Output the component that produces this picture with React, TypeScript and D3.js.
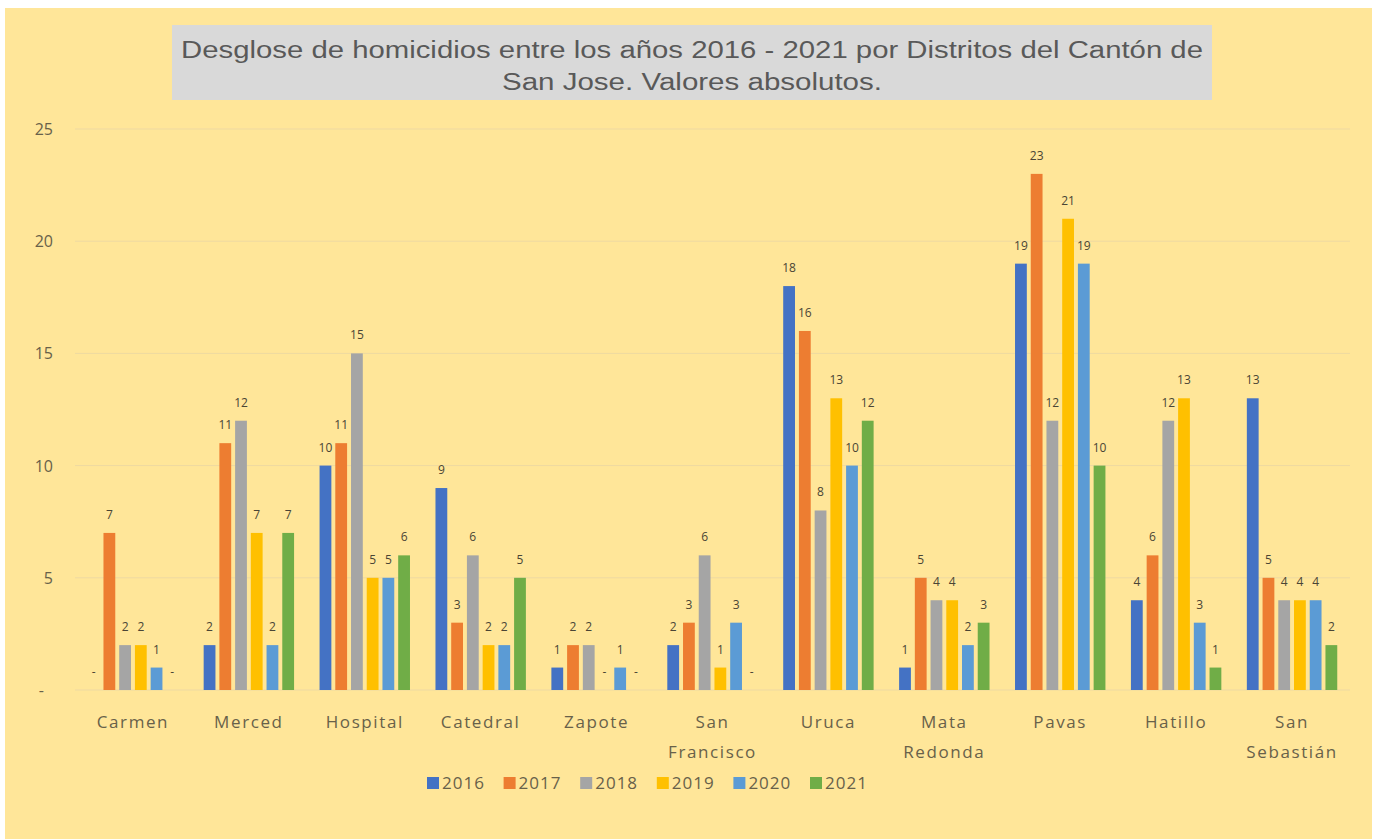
import React from 'react';
import * as d3 from 'd3';

const districts = [
  'Carmen', 'Merced', 'Hospital', 'Catedral', 'Zapote', 'San Francisco',
  'Uruca', 'Mata Redonda', 'Pavas', 'Hatillo', 'San Sebastián',
];
const years = ['2016', '2017', '2018', '2019', '2020', '2021'];

const v2016 = [0, 2, 10, 9, 1, 2, 18, 1, 19, 4, 13];
const v2017 = [7, 11, 11, 3, 2, 3, 16, 5, 23, 6, 5];
const v2018 = [2, 12, 15, 6, 2, 6, 8, 4, 12, 12, 4];
const v2019 = [2, 7, 5, 2, 0, 1, 13, 4, 21, 13, 4];
const v2020 = [1, 2, 5, 2, 1, 3, 10, 2, 19, 3, 4];
const v2021 = [0, 7, 6, 5, 0, 0, 12, 3, 10, 1, 2];
const series = [v2016, v2017, v2018, v2019, v2020, v2021];

const yTicks = [0, 5, 10, 15, 20, 25];
const colors = ['#4472C4', '#ED7D31', '#A5A5A5', '#FFC000', '#5B9BD5', '#70AD47'];

const W = 1378;
const H = 839;

export default function App() {
  const x0 = d3.scaleBand<string>()
    .domain(districts)
    .range([75, 1350])
    .paddingInner(0.22)
    .paddingOuter(0.11);
  const x1 = d3.scaleBand<string>()
    .domain(years)
    .range([0, x0.bandwidth()])
    .paddingInner(0.25);
  const y = d3.scaleLinear().domain([0, 25]).range([690, 129]);

  const fmt = (v: number) => (v === 0 ? '-' : String(v));
  const font = "'Open Sans', 'Liberation Sans', sans-serif";
  const titleFont = "'Liberation Sans', Arial, sans-serif";
  const axisColor = '#68614A';

  return (
    <div style={{ position: 'absolute', left: 0, top: 0 }}>
      <svg width={W} height={H} style={{ display: 'block' }}>
        <rect x={0} y={0} width={W} height={H} fill="#FFFFFF" />
        <rect x={5} y={8} width={1367} height={H - 8} fill="#FFE699" />

        {/* title */}
        <rect x={172} y={25} width={1040} height={75} fill="#D9D9D9" />
        <text x={692} y={58} textAnchor="middle" fontFamily={titleFont}
          fontSize={23} fill="#595959" textLength={1022} lengthAdjust="spacingAndGlyphs">
          Desglose de homicidios entre los años 2016 - 2021 por Distritos del Cantón de
        </text>
        <text x={692} y={90} textAnchor="middle" fontFamily={titleFont}
          fontSize={23} fill="#595959" textLength={380} lengthAdjust="spacingAndGlyphs">
          San Jose. Valores absolutos.
        </text>

        {/* grid + y axis */}
        {yTicks.map((t) => (
          <g key={t}>
            <line x1={75} x2={1350} y1={y(t)} y2={y(t)} stroke="#EED9A2" strokeWidth={1} />
            <text x={t === 0 ? 44 : 53} y={y(t) + 6} textAnchor="end" fontFamily={font}
              fontSize={16} fill={axisColor}>
              {fmt(t)}
            </text>
          </g>
        ))}

        {/* bars */}
        {districts.map((d, i) => (
          <g key={d} transform={`translate(${x0(d)},0)`}>
            {years.map((yr, j) => {
              const v = series[j][i];
              const bx = x1(yr) as number;
              return (
                <g key={yr}>
                  {v > 0 && (
                    <rect x={bx} y={y(v)} width={x1.bandwidth()} height={y(0) - y(v)} fill={colors[j]} />
                  )}
                  <text x={bx + x1.bandwidth() / 2} y={y(v) - 14} textAnchor="middle"
                    fontFamily={font} fontSize={12} fill="#4A4535">
                    {fmt(v)}
                  </text>
                </g>
              );
            })}
          </g>
        ))}

        {/* category labels */}
        {districts.map((d) => {
          const cx = (x0(d) as number) + x0.bandwidth() / 2;
          return (
            <text key={d} x={cx} textAnchor="middle" fontFamily={font} fontSize={17}
              letterSpacing={1.6} fill={axisColor}>
              {d.split(' ').map((w, k) => (
                <tspan key={k} x={cx} y={728 + k * 30}>{w}</tspan>
              ))}
            </text>
          );
        })}

        {/* legend */}
        {years.map((yr, j) => (
          <g key={yr} transform={`translate(${427 + j * 76.6},783)`}>
            <rect x={0} y={-6} width={12} height={12} fill={colors[j]} />
            <text x={15} y={6} fontFamily={font} fontSize={17} letterSpacing={1} fill={axisColor}>
              {yr}
            </text>
          </g>
        ))}
      </svg>
    </div>
  );
}
